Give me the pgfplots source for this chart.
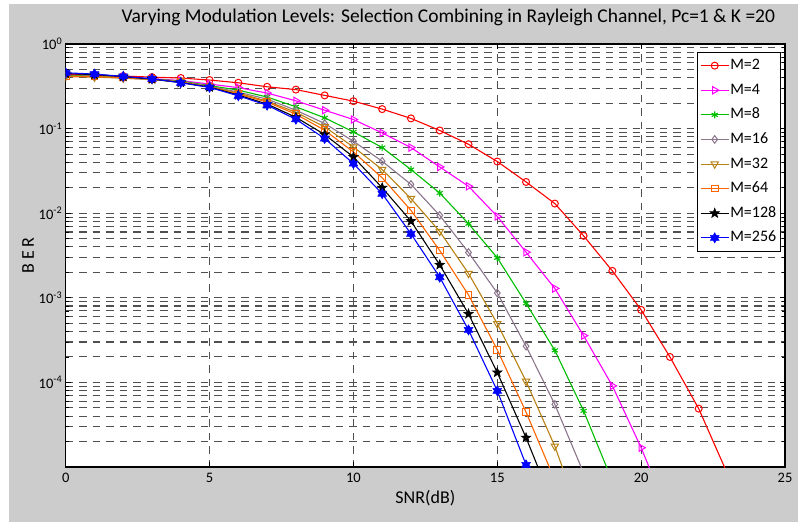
\documentclass[border=0pt]{standalone}
\usepackage{pgfplots}
\pgfplotsset{compat=1.18}
\usepackage{fontspec}
\setmainfont{Carlito}
\definecolor{figgray}{RGB}{204,204,204}
\definecolor{cgreen}{RGB}{0,190,0}
\definecolor{cpurple}{RGB}{140,118,140}
\definecolor{cgold}{RGB}{185,130,20}
\definecolor{corange}{RGB}{255,102,0}
\definecolor{cmag}{RGB}{255,0,255}
\definecolor{gridc}{RGB}{80,80,80}

\pgfdeclareplotmark{pstar}{%
  \pgfpathmoveto{\pgfqpointpolar{90}{\pgfplotmarksize}}%
  \pgfpathlineto{\pgfqpointpolar{126}{0.42\pgfplotmarksize}}%
  \pgfpathlineto{\pgfqpointpolar{162}{\pgfplotmarksize}}%
  \pgfpathlineto{\pgfqpointpolar{198}{0.42\pgfplotmarksize}}%
  \pgfpathlineto{\pgfqpointpolar{234}{\pgfplotmarksize}}%
  \pgfpathlineto{\pgfqpointpolar{270}{0.42\pgfplotmarksize}}%
  \pgfpathlineto{\pgfqpointpolar{306}{\pgfplotmarksize}}%
  \pgfpathlineto{\pgfqpointpolar{342}{0.42\pgfplotmarksize}}%
  \pgfpathlineto{\pgfqpointpolar{18}{\pgfplotmarksize}}%
  \pgfpathlineto{\pgfqpointpolar{54}{0.42\pgfplotmarksize}}%
  \pgfpathclose\pgfusepathqfillstroke}
\pgfdeclareplotmark{hstar}{%
  \pgfpathmoveto{\pgfqpointpolar{90}{\pgfplotmarksize}}%
  \pgfpathlineto{\pgfqpointpolar{120}{0.577\pgfplotmarksize}}%
  \pgfpathlineto{\pgfqpointpolar{150}{\pgfplotmarksize}}%
  \pgfpathlineto{\pgfqpointpolar{180}{0.577\pgfplotmarksize}}%
  \pgfpathlineto{\pgfqpointpolar{210}{\pgfplotmarksize}}%
  \pgfpathlineto{\pgfqpointpolar{240}{0.577\pgfplotmarksize}}%
  \pgfpathlineto{\pgfqpointpolar{270}{\pgfplotmarksize}}%
  \pgfpathlineto{\pgfqpointpolar{300}{0.577\pgfplotmarksize}}%
  \pgfpathlineto{\pgfqpointpolar{330}{\pgfplotmarksize}}%
  \pgfpathlineto{\pgfqpointpolar{0}{0.577\pgfplotmarksize}}%
  \pgfpathlineto{\pgfqpointpolar{30}{\pgfplotmarksize}}%
  \pgfpathlineto{\pgfqpointpolar{60}{0.577\pgfplotmarksize}}%
  \pgfpathclose\pgfusepathqfillstroke}

\begin{document}
\begin{tikzpicture}[x=1pt,y=1pt]
\path[use as bounding box] (0,0) rectangle (798,524);
\fill[white] (0,0) rectangle (798,524);
\fill[figgray] (9,2) rectangle (798,520);
\begin{axis}[
  at={(65.7pt,57pt)}, anchor=south west,
  width=719.3pt, height=423pt, scale only axis,
  ymode=log,
  xmin=0, xmax=25, ymin=1e-5, ymax=1,
  axis background/.style={fill=white},
  xtick={0,5,10,15,20,25},
  ytick={1e-5,1e-4,1e-3,1e-2,1e-1,1},
  yticklabels={,10\textsuperscript{-4},10\textsuperscript{-3},10\textsuperscript{-2},10\textsuperscript{-1},10\textsuperscript{0}},
  /pgf/number format/assume math mode=true,
  tick label style={font=\fontsize{14.5}{16}\selectfont},
  xticklabel style={yshift=-3pt},
  tick align=inside,
  major tick length=5pt, minor tick length=3pt,
  xmajorgrids, ymajorgrids, yminorgrids,
  major grid style={gridc, line width=1.1pt, dash pattern=on 7.5pt off 6pt},
  minor grid style={gridc, line width=1.1pt, dash pattern=on 7.5pt off 6pt},
  axis line style={black, line width=1.1pt},
  every tick/.style={black, line width=0.8pt},
  xlabel={SNR(dB)}, ylabel={B E R},
  label style={font=\fontsize{18}{20}\selectfont},
  xlabel style={at={(axis description cs:0.5,-0.073)}, anchor=center},
  ylabel style={at={(axis description cs:-0.0524,0.5)}, anchor=center, rotate=0},
  title={Varying Modulation Levels: Selection Combining in Rayleigh Channel, Pc=1 \& K =20},
  title style={font=\fontsize{19.5}{21}\selectfont, at={(axis description cs:0.5,1)}, anchor=base, xshift=23pt, yshift=15pt},
  clip marker paths=true,
  legend style={at={(axis description cs:1,1)}, anchor=north east, xshift=-4.3pt, yshift=-7.7pt,
    font=\fontsize{16}{18}\selectfont, draw=black, line width=0.9pt, fill=white,
    row sep=7.6pt, inner xsep=3pt, inner ysep=5pt,
    nodes={inner sep=1pt, text height=11.5pt, text depth=3.5pt}},
  legend cell align=left,
  legend image code/.code={\draw[mark repeat=2,mark phase=2] plot coordinates {(0pt,0pt) (14pt,0pt) (28pt,0pt)};},
  every axis plot/.append style={line width=1.1pt},
]
\addplot[red, mark=o, mark size=3.5pt, mark options={line width=1pt}] coordinates {(0,0.441)(1,0.429)(2,0.418)(3,0.406)(4,0.396)(5,0.375)(6,0.348)(7,0.312)(8,0.289)(9,0.247)(10,0.211)(11,0.170)(12,0.132)(13,0.095)(14,0.0653)(15,0.0408)(16,0.0234)(17,0.0130)(18,0.0054)(19,0.00208)(20,7.2e-4)(21,2.0e-4)(22,4.9e-5)(23,8.3e-6)};
\addlegendentry{M=2}
\addplot[cmag, mark=triangle, mark size=4.2pt, mark options={rotate=-90, line width=1pt}] coordinates {(0,0.429)(1,0.424)(2,0.406)(3,0.390)(4,0.370)(5,0.336)(6,0.305)(7,0.263)(8,0.213)(9,0.165)(10,0.128)(11,0.0889)(12,0.0597)(13,0.0352)(14,0.0208)(15,0.00916)(16,0.00346)(17,0.00129)(18,3.57e-4)(19,9.1e-5)(20,1.69e-5)(21,2.5e-6)};
\addlegendentry{M=4}
\addplot[cgreen, mark=asterisk, mark size=3.5pt, mark options={line width=1.1pt}] coordinates {(0,0.424)(1,0.418)(2,0.401)(3,0.385)(4,0.365)(5,0.322)(6,0.285)(7,0.236)(8,0.181)(9,0.134)(10,0.0914)(11,0.0597)(12,0.0328)(13,0.0173)(14,0.00751)(15,0.00297)(16,8.6e-4)(17,2.39e-4)(18,4.61e-5)(19,6.8e-6)};
\addlegendentry{M=8}
\addplot[cpurple, mark=diamond, mark size=3.8pt, mark options={line width=1pt}] coordinates {(0,0.418)(1,0.412)(2,0.395)(3,0.380)(4,0.360)(5,0.318)(6,0.270)(7,0.223)(8,0.165)(9,0.115)(10,0.0709)(11,0.0411)(12,0.0219)(13,0.00942)(14,0.00343)(15,0.00114)(16,2.68e-4)(17,5.5e-5)(18,8.5e-6)};
\addlegendentry{M=16}
\addplot[cgold, mark=triangle, mark size=4.2pt, mark options={rotate=180, line width=1pt}] coordinates {(0,0.412)(1,0.406)(2,0.395)(3,0.380)(4,0.355)(5,0.313)(6,0.263)(7,0.211)(8,0.156)(9,0.105)(10,0.0607)(11,0.0328)(12,0.0149)(13,0.00608)(14,0.00194)(15,4.94e-4)(16,1.03e-4)(17,1.76e-5)(18,2.0e-6)};
\addlegendentry{M=32}
\addplot[corange, mark=square, mark size=3.3pt, mark options={line width=1pt}] coordinates {(0,0.418)(1,0.412)(2,0.401)(3,0.385)(4,0.355)(5,0.309)(6,0.256)(7,0.206)(8,0.148)(9,0.0957)(10,0.0530)(11,0.0262)(12,0.0108)(13,0.00362)(14,0.00108)(15,2.43e-4)(16,4.45e-5)(17,7.0e-6)};
\addlegendentry{M=64}
\addplot[black, mark=pstar, mark size=5pt, mark options={line width=0.6pt}] coordinates {(0,0.447)(1,0.435)(2,0.412)(3,0.385)(4,0.350)(5,0.309)(6,0.249)(7,0.195)(8,0.136)(9,0.0851)(10,0.0462)(11,0.0200)(12,0.00806)(13,0.00245)(14,6.45e-4)(15,1.31e-4)(16,2.22e-5)(17,3.2e-6)};
\addlegendentry{M=128}
\addplot[blue, mark=hstar, mark size=5pt, mark options={line width=0.6pt}] coordinates {(0,0.457)(1,0.441)(2,0.414)(3,0.388)(4,0.348)(5,0.307)(6,0.244)(7,0.189)(8,0.129)(9,0.0763)(10,0.0386)(11,0.0170)(12,0.00571)(13,0.00175)(14,4.17e-4)(15,7.95e-5)(16,1.06e-5)(17,1.0e-6)};
\addlegendentry{M=256}
\end{axis}
\end{tikzpicture}
\end{document}
